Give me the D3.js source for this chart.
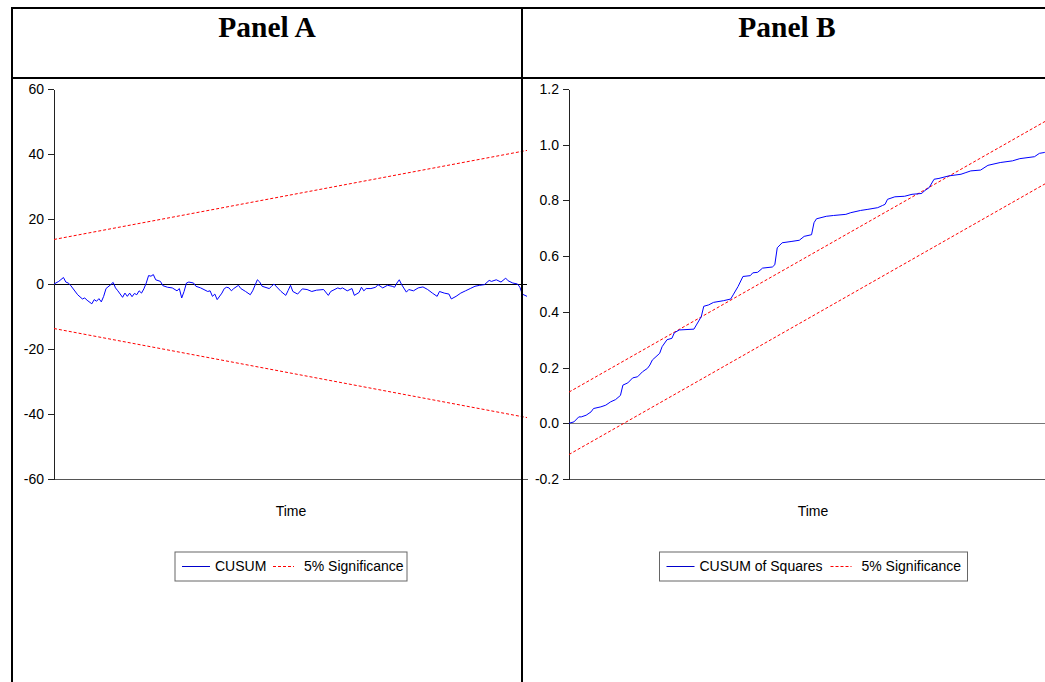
<!DOCTYPE html>
<html>
<head>
<meta charset="utf-8">
<script src="https://cdn.jsdelivr.net/npm/d3@7"></script>
<style>
  html, body { margin: 0; padding: 0; background: #fff; }
  svg { display: block; }
  .tick text { font-family: "Liberation Sans", Arial, sans-serif; font-size: 14px; fill: #000; }
  .domain, .tick line { shape-rendering: crispEdges; }
</style>
</head>
<body>
<div id="chart"></div>
<script>
// observation index (time) and CUSUM value, Panel A
const cusumT = [0, 2, 4, 5, 6, 7, 10, 12, 13, 14, 16, 17, 18, 19, 20, 21, 22, 24, 25, 26, 27, 29, 30, 31, 32, 33, 34, 35, 36, 37, 38, 39, 40, 41, 42, 43, 45, 46, 48, 50, 52, 53, 54, 55, 56, 57, 59, 60, 62, 65, 66, 67, 68, 69, 71, 72, 73, 74, 75, 76, 78, 79, 81, 83, 84, 86, 87, 88, 91, 92, 93, 96, 98, 99, 100, 101, 103, 105, 107, 109, 111, 114, 116, 117, 120, 121, 122, 124, 126, 127, 129, 130, 131, 132, 134, 136, 137, 139, 141, 143, 144, 145, 146, 147, 149, 150, 152, 154, 156, 158, 160, 162, 163, 165, 167, 168, 170, 172, 174, 176, 178, 180, 182, 184, 185, 187, 189, 191, 192, 194, 196, 197, 198, 200];
const cusumV = [0, 0.8, 2.0, 0.6, 0.3, -0.4, -3.3, -4.6, -4.3, -5.0, -6.1, -4.8, -5.3, -4.5, -5.5, -3.8, -1.4, -0.2, 0.5, -1.2, -2.1, -4.1, -2.8, -3.8, -2.8, -3.9, -2.9, -3.3, -2.1, -2.8, -1.5, 0.3, 2.6, 2.4, 2.9, 1.3, 0.8, -0.5, -1.0, -1.2, -2.1, -1.4, -4.3, -2.3, 0.3, 0.6, 0.3, -0.7, -1.2, -2.3, -2.1, -3.8, -3.1, -4.8, -2.8, -1.4, -1.0, -1.2, -2.1, -1.4, -0.4, -1.4, -2.3, -3.3, -2.1, 1.3, 0.6, -0.7, -1.4, -0.7, 0, -2.3, -3.5, -2.0, -0.4, -2.3, -3.1, -1.5, -1.7, -2.3, -1.9, -1.7, -3.5, -2.3, -1.2, -1.5, -1.2, -2.1, -1.4, -3.5, -2.6, -1.0, -2.1, -1.4, -1.4, -1.0, -0.2, -1.2, -0.4, -0.7, -1.0, 0.3, 1.3, -0.2, -2.5, -1.7, -2.1, -1.2, -0.9, -1.7, -2.8, -3.8, -2.3, -2.8, -3.1, -4.6, -3.8, -2.8, -2.1, -1.4, -0.7, -0.4, -0.2, 1.1, 0.8, 1.3, 0.6, 1.8, 1.0, 0.3, 0, -1.0, -3.1, -3.8];
// 5% bands for CUSUM: value at first and last observation
const cusumBandT = [0, 200];
const cusumUpper = [13.7, 41.1];
const cusumLower = [-13.7, -41.1];
const ticksA = [-60, -40, -20, 0, 20, 40, 60];

// observation index and CUSUM of squares, Panel B
const sqT = [0, 2, 4, 5, 7, 9, 10, 13, 15, 17, 19, 21, 22, 24, 26, 28, 30, 32, 33, 34, 37, 38, 40, 42, 43, 45, 51, 52, 54, 55, 57, 59, 63, 66, 67, 69, 71, 74, 75, 77, 79, 83, 84, 85, 87, 91, 94, 96, 99, 100, 101, 105, 108, 113, 115, 119, 122, 126, 128, 129, 130, 133, 137, 140, 144, 145, 147, 149, 151, 155, 160, 162, 164, 168, 171, 176, 181, 184, 190, 192, 194, 200];
const sqV = [0, 0.005, 0.023, 0.023, 0.029, 0.041, 0.053, 0.059, 0.065, 0.077, 0.085, 0.100, 0.137, 0.145, 0.163, 0.167, 0.185, 0.197, 0.209, 0.227, 0.251, 0.275, 0.300, 0.305, 0.325, 0.335, 0.338, 0.353, 0.383, 0.420, 0.425, 0.434, 0.440, 0.446, 0.461, 0.491, 0.527, 0.530, 0.540, 0.542, 0.557, 0.561, 0.569, 0.630, 0.648, 0.653, 0.657, 0.671, 0.677, 0.720, 0.734, 0.743, 0.746, 0.750, 0.756, 0.764, 0.768, 0.774, 0.782, 0.786, 0.804, 0.813, 0.815, 0.822, 0.825, 0.834, 0.846, 0.876, 0.879, 0.888, 0.894, 0.900, 0.906, 0.909, 0.926, 0.936, 0.942, 0.950, 0.957, 0.969, 0.972, 1.0];
const sqBandT = [0, 200];
const sqUpper = [0.112, 1.112];
const sqLower = [-0.112, 0.888];
const ticksB = [-0.2, 0.0, 0.2, 0.4, 0.6, 0.8, 1.0, 1.2];

const titles = ['Panel A', 'Panel B'];
const xLabel = 'Time';
const legendA = ['CUSUM', '5% Significance'];
const legendB = ['CUSUM of Squares', '5% Significance'];

const W = 1045, H = 682;
const sansFont = '"Liberation Sans", Arial, sans-serif';

const svg = d3.select('#chart').append('svg')
  .attr('width', W)
  .attr('height', H);

// table frame
const frame = svg.append('g').attr('stroke', '#000').attr('stroke-width', 2);
frame.append('line').attr('x1', 11).attr('x2', W).attr('y1', 8).attr('y2', 8);
frame.append('line').attr('x1', 12).attr('x2', 12).attr('y1', 7).attr('y2', H);
frame.append('line').attr('x1', 11).attr('x2', W).attr('y1', 78).attr('y2', 78);

// titles
svg.selectAll('.title')
  .data(titles)
  .enter().append('text')
  .attr('class', 'title')
  .attr('x', (d, i) => i === 0 ? 267 : 787)
  .attr('y', 37)
  .attr('text-anchor', 'middle')
  .attr('font-family', '"Liberation Serif", "Times New Roman", serif')
  .attr('font-weight', 'bold')
  .attr('font-size', '29.5px')
  .text(d => d);

function drawPanel(cfg) {
  const g = svg.append('g');
  const x = d3.scaleLinear().domain(cfg.xDomain).range(cfg.xRange);
  const y = d3.scaleLinear().domain(cfg.yDomain).range([479, 89]);

  // zero reference line
  g.append('line')
    .attr('x1', cfg.xRange[0]).attr('x2', cfg.xRange[1])
    .attr('y1', y(0)).attr('y2', y(0))
    .attr('stroke', cfg.zeroColor)
    .attr('stroke-width', cfg.zeroWidth)
    .attr('shape-rendering', 'crispEdges');

  // bottom axis line (no ticks)
  g.append('g')
    .attr('transform', `translate(0,${y(cfg.yDomain[0])})`)
    .call(d3.axisBottom(x).tickValues([]).tickSizeOuter(0))
    .select('.domain').attr('stroke', '#555');

  // left axis
  const ya = g.append('g')
    .attr('transform', `translate(${cfg.xRange[0]},0)`)
    .call(d3.axisLeft(y).tickValues(cfg.ticks).tickSize(6).tickSizeOuter(0).tickPadding(4).tickFormat(cfg.fmt));
  ya.select('.domain').attr('stroke', '#222');
  ya.selectAll('.tick line').attr('stroke', '#222');

  const line = d3.line().x(d => x(d[0])).y(d => y(d[1]));

  // significance bands
  [cfg.upper, cfg.lower].forEach(vals => {
    g.append('path')
      .datum(cfg.bandT.map((t, i) => [t, vals[i]]))
      .attr('d', line)
      .attr('fill', 'none')
      .attr('stroke', '#ff0000')
      .attr('stroke-width', 1)
      .attr('stroke-dasharray', '3,2');
  });

  // statistic
  g.append('path')
    .datum(cfg.t.map((t, i) => [t, cfg.v[i]]))
    .attr('d', line)
    .attr('fill', 'none')
    .attr('stroke', '#0000ff')
    .attr('stroke-width', 1)
    .attr('stroke-linejoin', 'round');

  // axis title
  g.append('text')
    .attr('x', cfg.labelX)
    .attr('y', 516)
    .attr('text-anchor', 'middle')
    .attr('font-family', sansFont)
    .attr('font-size', '14px')
    .text(xLabel);

  // legend
  const lg = g.append('g').attr('transform', `translate(${cfg.legend.x},552)`);
  lg.append('rect')
    .attr('width', cfg.legend.w).attr('height', 29)
    .attr('fill', '#fff')
    .attr('stroke', '#666').attr('stroke-width', 1);
  lg.append('line')
    .attr('x1', 7).attr('x2', 35).attr('y1', 14.5).attr('y2', 14.5)
    .attr('stroke', '#0000cc');
  lg.append('text')
    .attr('x', 40).attr('y', 19)
    .attr('font-family', sansFont).attr('font-size', '14px')
    .text(cfg.legend.labels[0]);
  lg.append('line')
    .attr('x1', cfg.legend.dashX).attr('x2', cfg.legend.dashX + 21).attr('y1', 14.5).attr('y2', 14.5)
    .attr('stroke', '#ff0000').attr('stroke-dasharray', '3,2');
  lg.append('text')
    .attr('x', cfg.legend.dashX + 31).attr('y', 19)
    .attr('font-family', sansFont).attr('font-size', '14px')
    .text(cfg.legend.labels[1]);
}

drawPanel({
  t: cusumT, v: cusumV,
  bandT: cusumBandT, upper: cusumUpper, lower: cusumLower,
  xDomain: [0, 200], xRange: [54, 527],
  yDomain: [-60, 60], ticks: ticksA, fmt: d => String(d),
  zeroColor: '#000', zeroWidth: 1,
  labelX: 291,
  legend: { x: 175, w: 232, dashX: 98, labels: legendA }
});

drawPanel({
  t: sqT, v: sqV,
  bandT: sqBandT, upper: sqUpper, lower: sqLower,
  xDomain: [0, 200], xRange: [569, 1059],
  yDomain: [-0.2, 1.2], ticks: ticksB, fmt: d => d.toFixed(1),
  zeroColor: '#777', zeroWidth: 1.5,
  labelX: 813,
  legend: { x: 659.5, w: 308, dashX: 171, labels: legendB }
});

// column divider drawn on top of panel A's overhang
svg.append('line')
  .attr('x1', 522).attr('x2', 522).attr('y1', 7).attr('y2', H)
  .attr('stroke', '#000').attr('stroke-width', 2);
</script>
</body>
</html>
